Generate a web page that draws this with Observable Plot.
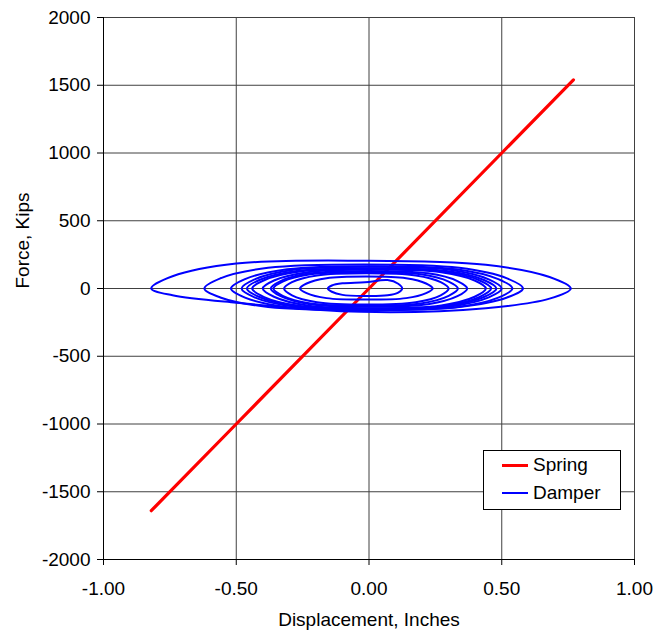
<!DOCTYPE html>
<html>
<head>
<meta charset="utf-8">
<script src="https://cdn.jsdelivr.net/npm/d3@7"></script>
<script src="https://cdn.jsdelivr.net/npm/@observablehq/plot@0.6"></script>
<style>
  body { margin: 0; background: #fff; font-family: "Liberation Sans", Arial, sans-serif; }
  #wrap { position: relative; width: 655px; height: 633px; }
  #legend { position: absolute; left: 483px; top: 450px; width: 136px; height: 58px;
            border: 1px solid #000; background: #fff; font-size: 19px; color: #000; }
  .item { position: absolute; left: 18px; height: 22px; display: flex; align-items: center; }
  .swatch { width: 26px; height: 0; margin-right: 5px; }
</style>
</head>
<body>
<div id="wrap">
  <div id="chart"></div>
  <div id="legend">
    <div class="item" style="top:3px"><div class="swatch" style="border-top:3px solid #FF0000"></div><span>Spring</span></div>
    <div class="item" style="top:31px"><div class="swatch" style="border-top:2px solid #0000FF"></div><span>Damper</span></div>
  </div>
</div>
<script>
// Axis ticks
const xTicks = [-1.0, -0.5, 0.0, 0.5, 1.0];
const yTicks = [-2000, -1500, -1000, -500, 0, 500, 1000, 1500, 2000];

// Spring: displacement (in) vs force (kips)
const springX = [-0.82, -0.5, 0.0, 0.5, 0.77];
const springF = [-1640, -1000, 0, 1000, 1540];

// Damper loops: displacement (in) and force (kips), points read around each loop
const damperLoopX = [
  [-0.82, -0.74, -0.50, -0.03, 0.44, 0.68, 0.76, 0.68, 0.44, -0.03, -0.50, -0.74],
  [-0.62, -0.56, -0.38, -0.02, 0.34, 0.52, 0.58, 0.52, 0.34, -0.02, -0.38, -0.56],
  [-0.52, -0.467, -0.308, 0.01, 0.328, 0.487, 0.54, 0.487, 0.328, 0.01, -0.308, -0.467],
  [-0.48, -0.431, -0.284, 0.01, 0.304, 0.451, 0.50, 0.451, 0.304, 0.01, -0.284, -0.431],
  [-0.46, -0.413, -0.272, 0.01, 0.292, 0.433, 0.48, 0.433, 0.292, 0.01, -0.272, -0.413],
  [-0.44, -0.395, -0.26, 0.01, 0.28, 0.415, 0.46, 0.415, 0.28, 0.01, -0.26, -0.395],
  [-0.40, -0.358, -0.232, 0.02, 0.272, 0.398, 0.44, 0.398, 0.272, 0.02, -0.232, -0.358],
  [-0.37, -0.333, -0.222, 0.0, 0.222, 0.333, 0.37, 0.333, 0.222, 0.0, -0.222, -0.333],
  [-0.36, -0.325, -0.22, -0.01, 0.195, 0.30, 0.335, 0.30, 0.195, -0.01, -0.22, -0.325],
  [-0.32, -0.29, -0.196, -0.01, 0.176, 0.27, 0.30, 0.27, 0.176, -0.01, -0.196, -0.29],
  [-0.26, -0.235, -0.16, -0.01, 0.14, 0.215, 0.24, 0.215, 0.14, -0.01, -0.16, -0.235],
  [-0.155, -0.14, -0.10, -0.015, 0.07, 0.11, 0.125, 0.11, 0.07, -0.015, -0.10, -0.14]
];
const damperLoopF = [
  [0, 90, 184, 205, 175, 85, 0, -75, -145, -172, -105, -50],
  [0, 75, 153, 178, 153, 75, 0, -66, -136, -158, -136, -66],
  [0, 69, 142, 165, 142, 69, 0, -67, -138, -160, -138, -67],
  [0, 67, 138, 160, 138, 67, 0, -65, -133, -155, -133, -65],
  [0, 63, 129, 150, 129, 63, 0, -63, -129, -150, -129, -63],
  [0, 61, 125, 145, 125, 61, 0, -63, -129, -150, -129, -63],
  [0, 59, 120, 140, 120, 59, 0, -61, -125, -145, -125, -61],
  [0, 55, 112, 130, 112, 55, 0, -57, -116, -135, -116, -57],
  [0, 51, 105, 122, 105, 51, 0, -54, -110, -128, -110, -54],
  [0, 47, 96, 112, 96, 47, 0, -50, -101, -118, -101, -50],
  [0, 37, 76, 88, 76, 37, 0, -34, -71, -82, -71, -34],
  [0, 22, 38, 46, 62, 35, 0, -30, -50, -55, -47, -24]
];

const spring = springX.map((x, i) => ({x, f: springF[i]}));
const damper = damperLoopX.flatMap((xs, k) => xs.map((x, i) => ({x, f: damperLoopF[k][i], loop: k})));

const font = "Liberation Sans, Arial, sans-serif";
const chart = Plot.plot({
  width: 655,
  height: 633,
  marginLeft: 103,
  marginRight: 21,
  marginTop: 17,
  marginBottom: 74,
  style: {fontFamily: font, fontSize: "19px", color: "#000", background: "#fff"},
  x: {domain: [-1, 1]},
  y: {domain: [-2000, 2000]},
  marks: [
    Plot.gridX(xTicks, {stroke: "#404040", strokeOpacity: 1}),
    Plot.gridY(yTicks, {stroke: "#404040", strokeOpacity: 1}),
    Plot.ruleX([-1], {stroke: "#000"}),
    Plot.ruleY([-2000], {stroke: "#000"}),
    Plot.axisX(xTicks, {tickSize: 6, tickPadding: 16, tickFormat: d => d.toFixed(2), label: null, fontSize: 19}),
    Plot.axisY(yTicks, {tickSize: 6, tickPadding: 7, tickFormat: d => String(d), label: null, fontSize: 19}),
    Plot.line(spring, {x: "x", y: "f", stroke: "#FF0000", strokeWidth: 3.2}),
    Plot.line(damper, {x: "x", y: "f", z: "loop", stroke: "#0000FF", strokeWidth: 2, curve: "catmull-rom-closed"}),
    Plot.text(["Displacement, Inches"], {frameAnchor: "bottom", dy: 66, text: d => d, fontSize: 19}),
    Plot.text(["Force, Kips"], {frameAnchor: "left", dx: -81, rotate: -90, text: d => d, fontSize: 19})
  ]
});
document.getElementById("chart").appendChild(chart);
</script>
</body>
</html>
